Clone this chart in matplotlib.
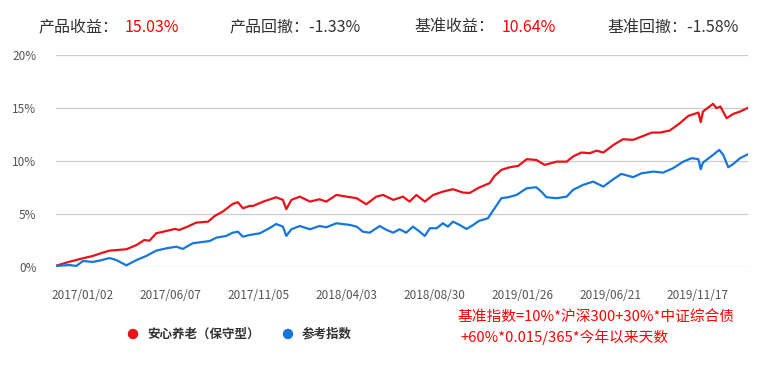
import numpy as np
import matplotlib
matplotlib.use('Agg')
import matplotlib.pyplot as plt

plt.rcParams['font.family'] = ['Noto Sans CJK SC', 'DejaVu Sans']

# 天数 (相对 2017/01/02) 与收益率 (%)
product_day = [-48, -24, 0, 17, 35, 47, 77, 95, 109, 118, 130, 148, 163, 171, 183, 201, 222, 234,
               248, 266, 275, 284, 296, 302, 320, 343, 355, 361, 370, 385, 403, 420, 432, 450, 468,
               486, 503, 521, 533, 551, 568, 580, 592, 607, 622, 639, 657, 675, 687, 703, 722, 731,
               743, 758, 773, 788, 805, 820, 841, 859, 870, 885, 900, 912, 924, 942, 959, 977, 992,
               1010, 1025, 1042, 1060, 1075, 1093, 1097, 1101, 1119, 1125, 1132, 1143, 1155, 1167, 1181]
product_ret = [0.09, 0.47, 0.80, 1.01, 1.33, 1.52, 1.65, 2.05, 2.53, 2.46, 3.16, 3.38, 3.57, 3.48,
               3.73, 4.17, 4.26, 4.80, 5.21, 5.94, 6.10, 5.53, 5.75, 5.75, 6.16, 6.57, 6.32, 5.44,
               6.32, 6.63, 6.16, 6.38, 6.16, 6.79, 6.63, 6.48, 5.91, 6.63, 6.79, 6.32, 6.63, 6.16,
               6.79, 6.16, 6.79, 7.10, 7.33, 7.01, 6.98, 7.48, 7.90, 8.59, 9.16, 9.41, 9.54, 10.17,
               10.10, 9.63, 9.94, 9.94, 10.42, 10.80, 10.74, 10.98, 10.80, 11.52, 12.06, 12.00,
               12.31, 12.69, 12.69, 12.88, 13.58, 14.27, 14.58, 13.67, 14.68, 15.41, 15.00, 15.15,
               14.05, 14.46, 14.68, 15.03]

bench_day = [-48, -24, -12, 0, 17, 29, 47, 59, 77, 95, 112, 130, 148, 166, 177, 195, 225, 237, 254,
             266, 275, 284, 296, 314, 331, 343, 355, 361, 370, 385, 403, 420, 432, 450, 474, 486,
             497, 509, 527, 539, 551, 562, 574, 586, 598, 607, 616, 628, 639, 648, 657, 669, 681,
             693, 703, 719, 731, 743, 755, 770, 788, 805, 814, 823, 841, 859, 870, 888, 906, 924,
             942, 956, 977, 992, 1013, 1030, 1048, 1066, 1081, 1093, 1097, 1101, 1119, 1130, 1137,
             1146, 1155, 1167, 1181]
bench_ret = [0.07, 0.16, 0.07, 0.54, 0.45, 0.57, 0.82, 0.63, 0.13, 0.63, 1.01, 1.52, 1.74, 1.89,
             1.68, 2.22, 2.43, 2.75, 2.91, 3.22, 3.31, 2.84, 3.00, 3.16, 3.64, 4.04, 3.79, 2.91,
             3.54, 3.85, 3.54, 3.85, 3.73, 4.11, 3.95, 3.79, 3.31, 3.22, 3.85, 3.48, 3.22, 3.54,
             3.22, 3.79, 3.31, 2.91, 3.64, 3.64, 4.11, 3.79, 4.26, 3.95, 3.57, 3.95, 4.33, 4.58,
             5.53, 6.48, 6.57, 6.79, 7.42, 7.52, 7.10, 6.57, 6.48, 6.63, 7.26, 7.74, 8.05, 7.58,
             8.28, 8.78, 8.47, 8.84, 9.00, 8.90, 9.32, 9.94, 10.27, 10.17, 9.22, 9.85, 10.58,
             11.05, 10.58, 9.41, 9.73, 10.27, 10.64]

tick_day = [0, 156, 312, 468, 624, 780, 936, 1092]
tick_labels = ['2017/01/02', '2017/06/07', '2017/11/05', '2018/04/03',
               '2018/08/30', '2019/01/26', '2019/06/21', '2019/11/17']
y_ticks = [0, 5, 10, 15, 20]

red = '#e8121a'
blue = '#1577dc'

fig = plt.figure(figsize=(7.7, 3.66), dpi=100)
ax = fig.add_axes([56 / 770, 1 - 266.7 / 366, (748 - 56) / 770, (266.7 - 55.3) / 366])

ax.plot(product_day, product_ret, color=red, lw=1.6, zorder=3)
ax.plot(bench_day, bench_ret, color=blue, lw=1.6, zorder=3)

ax.set_xlim(-48, 1181)
ax.set_ylim(0, 20)
ax.set_yticks(y_ticks)
ax.set_yticklabels(['%d%%' % v for v in y_ticks])
ax.set_xticks(tick_day)
ax.set_xticklabels(tick_labels)
for y in y_ticks[1:]:
    ax.axhline(y, color='#cccccc', lw=0.9, zorder=1)
ax.axhline(0, color='#c6d2e6', lw=1.0, zorder=1)
for s in ax.spines.values():
    s.set_visible(False)
ax.tick_params(length=0, labelsize=8.5, colors='#555555')
ax.tick_params(axis='y', pad=14)
ax.tick_params(axis='x', pad=16)

# 顶部指标
fig.text(38 / 770, 1 - 27 / 366, '产品收益：', fontsize=11.5, color='#333333', va='center')
fig.text(125 / 770, 1 - 27 / 366, '15.03%', fontsize=11.5, color='#ff0000', va='center')
fig.text(229 / 770, 1 - 27 / 366, '产品回撤：-1.33%', fontsize=11.5, color='#333333', va='center')
fig.text(414 / 770, 1 - 27 / 366, '基准收益：', fontsize=11.5, color='#333333', va='center')
fig.text(502 / 770, 1 - 27 / 366, '10.64%', fontsize=11.5, color='#ff0000', va='center')
fig.text(607 / 770, 1 - 27 / 366, '基准回撤：-1.58%', fontsize=11.5, color='#333333', va='center')

# 图例
fig.add_artist(matplotlib.patches.Ellipse((133 / 770, 1 - 334 / 366), 9 / 770, 9 / 366,
                                          transform=fig.transFigure, color=red))
fig.text(147 / 770, 1 - 334 / 366, '安心养老（保守型）', fontsize=9, fontweight='bold',
         color='#333333', va='center')
fig.add_artist(matplotlib.patches.Ellipse((288 / 770, 1 - 334 / 366), 9 / 770, 9 / 366,
                                          transform=fig.transFigure, color=blue))
fig.text(302 / 770, 1 - 334 / 366, '参考指数', fontsize=9, fontweight='bold',
         color='#333333', va='center')

# 注释
fig.text(458 / 770, 1 - 318 / 366, '基准指数=10%*沪深300+30%*中证综合债', fontsize=10.6,
         color='#ff0000', va='center')
fig.text(460 / 770, 1 - 337 / 366, '+60%*0.015/365*今年以来天数', fontsize=10.6,
         color='#ff0000', va='center')

fig.savefig('out.png', dpi=100)
